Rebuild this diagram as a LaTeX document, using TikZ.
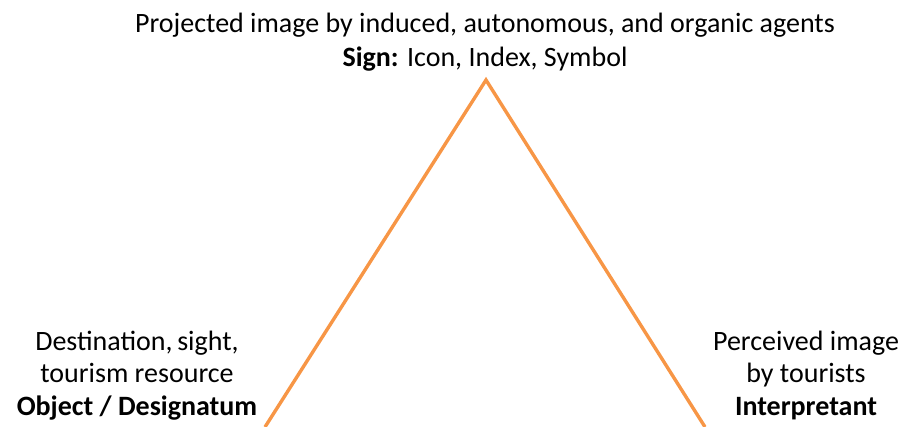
\documentclass[tikz,border=0pt]{standalone}
\usepackage{fontspec}
\setmainfont{Carlito}
\definecolor{tri}{RGB}{247,150,70}
\begin{document}
\begin{tikzpicture}[x=1pt,y=-1pt,
  lbl/.style={align=center,font=\fontsize{28}{32.5}\selectfont,inner sep=0pt},
  edge/.style={draw=tri,line width=3.4pt,line join=miter}]
\useasboundingbox (0,0) rectangle (909,427);
\clip (0,0) rectangle (909,427);
\node[lbl,anchor=base,font=\fontsize{28}{34}\selectfont] (sign) at (485,67) {Projected image by induced, autonomous, and organic agents\\\textbf{Sign:} Icon, Index, Symbol};
\node[lbl,anchor=base] (obj) at (137,415) {Destination,\,sight,\\tourism resource\\\textbf{Object / Designatum}};
\node[lbl,anchor=base] (int) at (806,415) {Perceived image\\by tourists\\\textbf{Interpretant}};
\coordinate (apex) at (486,80);
\coordinate (bl) at (265,427);
\coordinate (br) at (705,427);
\draw[edge] (bl) -- (apex) -- (br);
\end{tikzpicture}
\end{document}
